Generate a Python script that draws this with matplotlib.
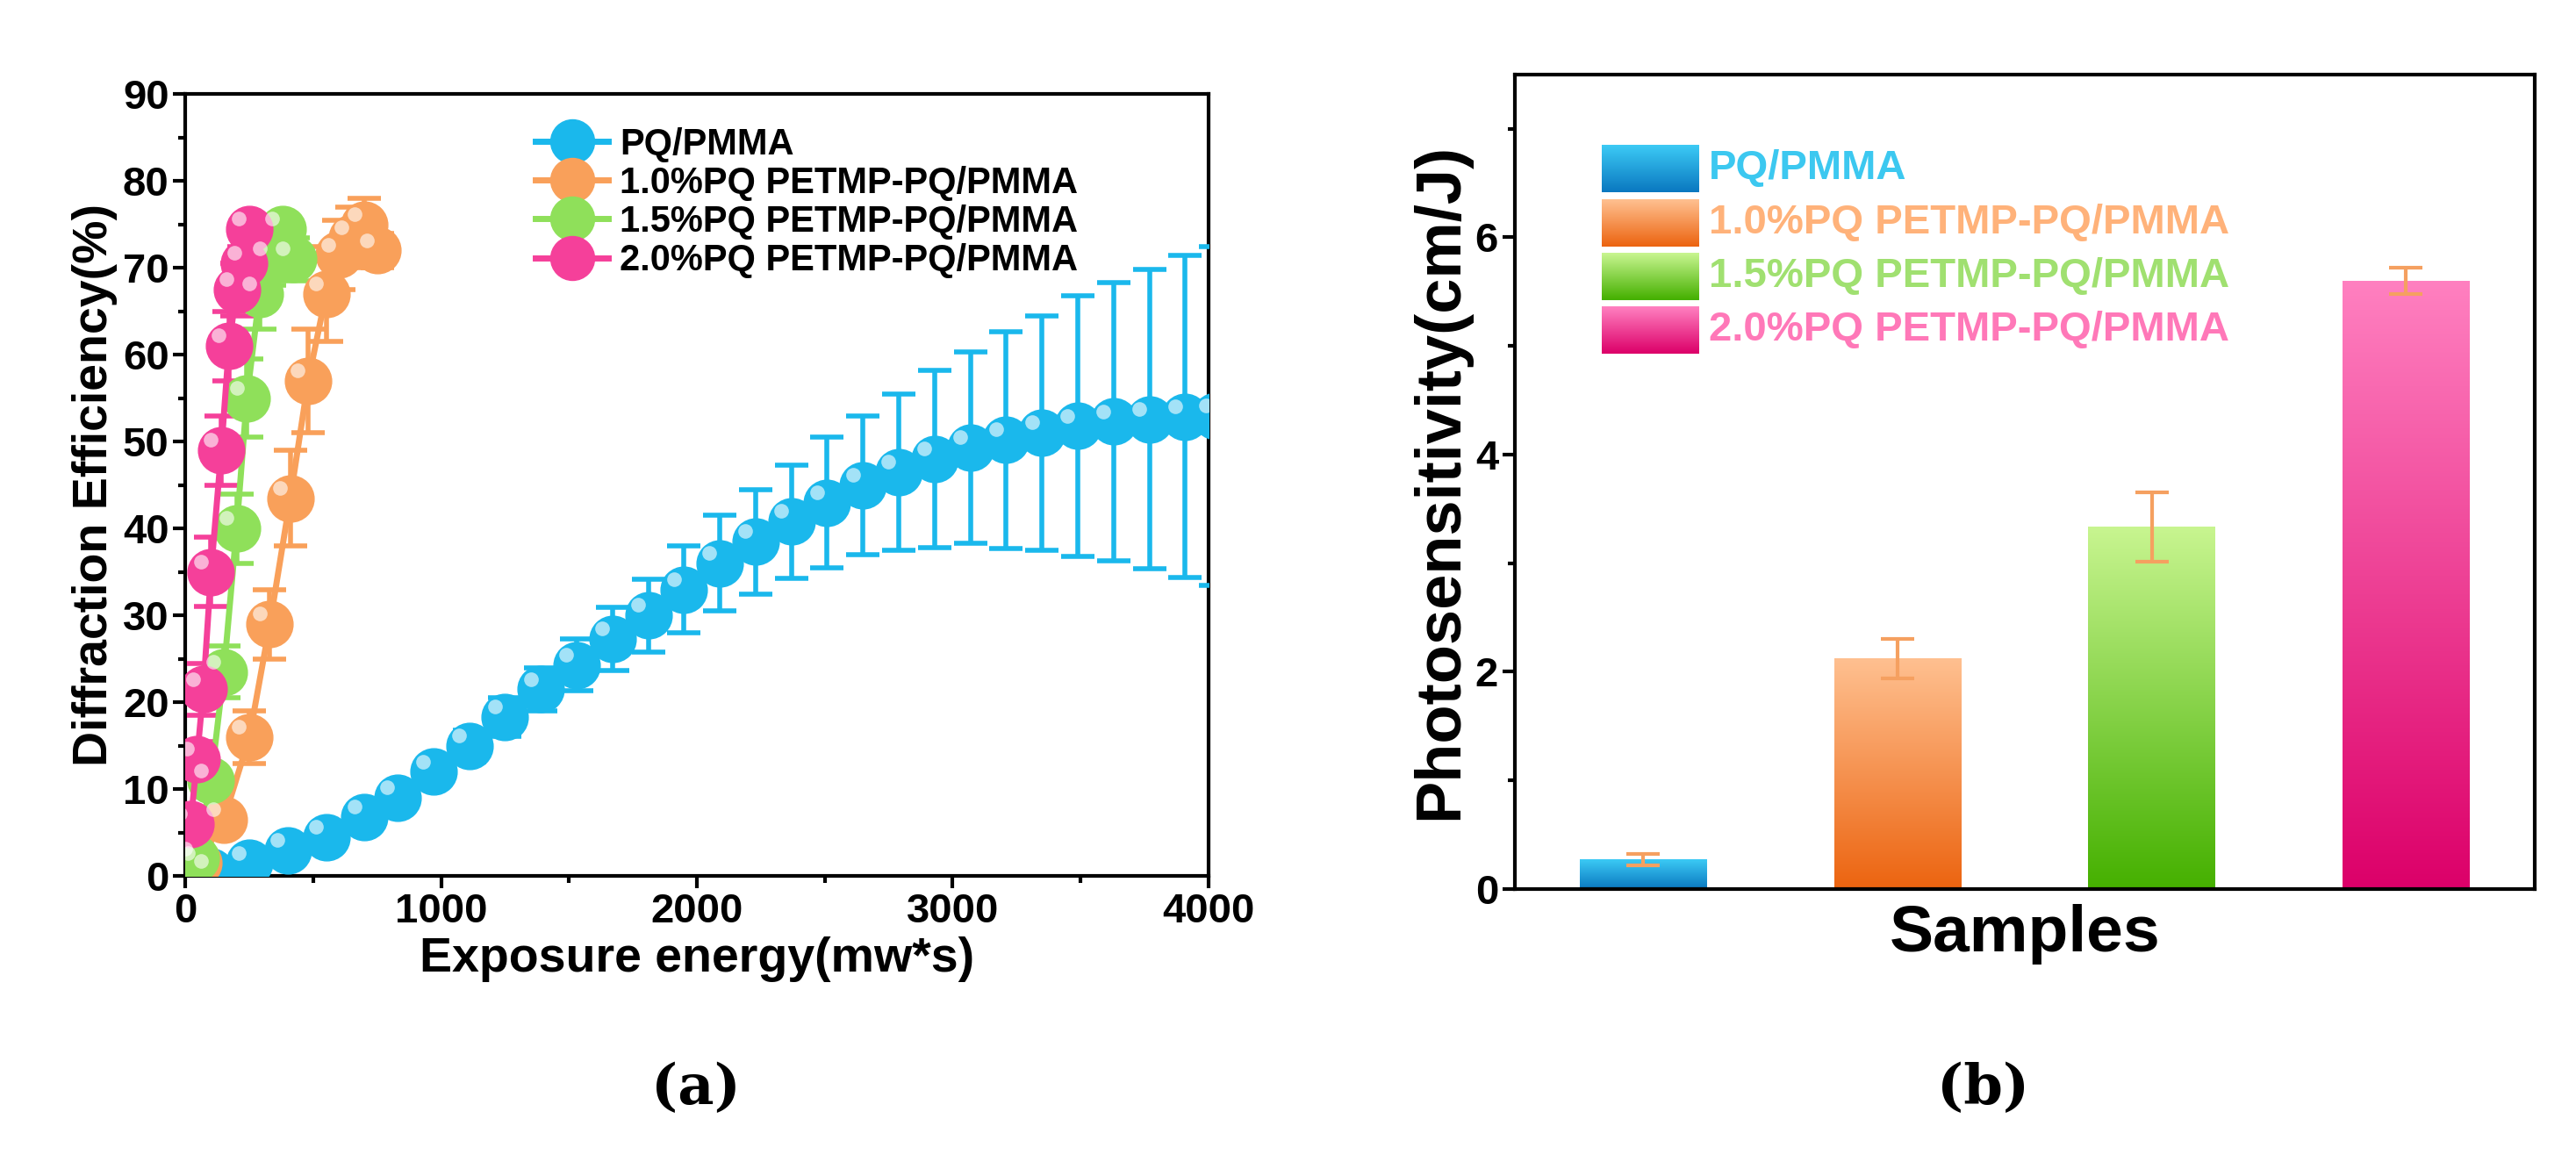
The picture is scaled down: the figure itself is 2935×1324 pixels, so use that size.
import numpy as np
import matplotlib.pyplot as plt
from matplotlib.colors import LinearSegmentedColormap
from matplotlib.lines import Line2D

plt.rcParams['font.family'] = ['Liberation Sans', 'DejaVu Sans']
plt.rcParams['font.weight'] = 'bold'

# panel (a) data
pq_x = [100, 250, 400, 550, 700, 830, 970, 1110, 1250, 1390, 1530, 1670, 1810, 1950, 2090, 2230,
        2370, 2510, 2650, 2790, 2930, 3070, 3210, 3350, 3490, 3630, 3770, 3910, 4030]
pq_y = [0.5, 1.5, 3, 4.5, 6.8, 9, 12, 15, 18.3, 21.5, 24.3, 27.3, 30, 33, 36, 38.5,
        40.8, 43, 45, 46.5, 48, 49.3, 50.2, 51, 51.8, 52.3, 52.6, 52.9, 53]
pq_e = [0.2, 0.4, 0.6, 0.8, 1, 1.2, 1.5, 1.8, 2.2, 2.5, 3, 3.6, 4.2, 5, 5.5, 6,
        6.5, 7.5, 8, 9, 10.2, 11, 12.5, 13.5, 15, 16, 17.2, 18.5, 19.5]
p10_x = [50, 150, 250, 330, 410, 480, 550, 600, 650, 700, 750]
p10_y = [1.5, 6.5, 16, 29, 43.5, 57, 67, 71.5, 73.5, 75, 72]
p10_e = [0.5, 1.5, 3, 4, 5.5, 6, 5.5, 4, 3.5, 3, 2]
p15_x = [40, 100, 150, 200, 240, 290, 330, 380, 420]
p15_y = [2, 11, 23.5, 40, 55, 67, 71, 74.5, 71]
p15_e = [0.5, 1.5, 3, 4, 4.5, 4, 3, 1.5, 2.5]
p20_x = [20, 45, 70, 100, 140, 170, 200, 230, 250]
p20_y = [6, 13.5, 21.5, 35, 49, 61, 67.5, 70.5, 74.5]
p20_e = [1, 2, 3, 4, 4, 4, 3, 2, 1.5]

labels = ['PQ/PMMA', '1.0%PQ PETMP-PQ/PMMA', '1.5%PQ PETMP-PQ/PMMA', '2.0%PQ PETMP-PQ/PMMA']
line_colors = ['#1ab8ec', '#f9a05a', '#8fe05a', '#f5409a']

# panel (b) data
ps_val = [0.27, 2.12, 3.33, 5.6]
ps_err = [0.05, 0.18, 0.32, 0.12]
grad = [('#0a78c0', '#3ccaf5'), ('#ec6410', '#ffc090'), ('#45b000', '#c8f590'), ('#dc0069', '#ff80c0')]
text_colors = ['#3cc8f0', '#ffb27a', '#a0e070', '#ff78b8']

fig = plt.figure(figsize=(29.35, 13.24), dpi=100)

ax = fig.add_axes([0.072, 0.246, 0.397, 0.673])
series = [(pq_x, pq_y, pq_e), (p10_x, p10_y, p10_e), (p15_x, p15_y, p15_e), (p20_x, p20_y, p20_e)]
for (x, y, e), c, lab in zip(series, line_colors, labels):
    ax.errorbar(x, y, yerr=e, color=c, lw=5, elinewidth=4, capsize=14, capthick=4,
                marker='o', ms=38, mfc=c, mec=c, zorder=3, clip_on=True)
    ax.plot(np.array(x) - 40, np.array(y) + 1.2, 'o', ms=12, color='white',
            alpha=0.6, mec='none', zorder=4)
handles = [Line2D([], [], color=c, lw=5, marker='o', ms=36) for c in line_colors]
ax.legend(handles, labels, loc='upper left', bbox_to_anchor=(0.31, 1.0), frameon=False,
          handlelength=2.0, labelspacing=0.1, handletextpad=0.3,
          prop={'weight': 'bold', 'size': 30})
ax.set_xlim(0, 4000)
ax.set_ylim(0, 90)
ax.set_xticks([0, 1000, 2000, 3000, 4000])
ax.set_yticks(range(0, 91, 10))
ax.set_yticks(range(5, 90, 10), minor=True)
ax.set_xticks(range(500, 4000, 1000), minor=True)
ax.tick_params(labelsize=34, width=3, length=10)
ax.tick_params(which='minor', width=3, length=6)
for s in ax.spines.values():
    s.set_linewidth(3)
ax.set_xlabel('Exposure energy(mw*s)', fontsize=40, fontweight='bold')
ax.set_ylabel('Diffraction Efficiency(%)', fontsize=40, fontweight='bold')

bx = fig.add_axes([0.588, 0.235, 0.396, 0.701])
pos = np.arange(1, 5)
w = 0.5
for p, v, (c0, c1) in zip(pos, ps_val, grad):
    cmap = LinearSegmentedColormap.from_list('g', [c0, c1])
    bx.imshow(np.linspace(0, 1, 256).reshape(-1, 1), cmap=cmap, origin='lower',
              extent=[p - w / 2, p + w / 2, 0, v], aspect='auto', zorder=2)
bx.errorbar(pos, ps_val, yerr=ps_err, fmt='none', ecolor='#f5a060', elinewidth=3,
            capsize=14, capthick=3, zorder=3)
for i, (lab, (c0, c1), tc) in enumerate(zip(labels, grad, text_colors)):
    y0 = 0.855 - i * 0.066
    cmap = LinearSegmentedColormap.from_list('g', [c0, c1])
    bx.imshow(np.linspace(0, 1, 64).reshape(-1, 1), cmap=cmap, origin='lower',
              extent=[0.085, 0.18, y0, y0 + 0.058], transform=bx.transAxes, aspect='auto', zorder=2)
    bx.text(0.19, y0 + 0.029, lab, color=tc, fontsize=34, fontweight='bold',
            va='center', transform=bx.transAxes)
bx.set_xlim(0.494, 4.506)
bx.set_ylim(0, 7.5)
bx.set_xticks([])
bx.set_yticks([0, 2, 4, 6])
bx.set_yticks([1, 3, 5, 7], minor=True)
bx.tick_params(labelsize=34, width=3, length=10)
bx.tick_params(which='minor', width=3, length=6)
for s in bx.spines.values():
    s.set_linewidth(3)
bx.set_xlabel('Samples', fontsize=54, fontweight='bold', labelpad=12)
bx.set_ylabel('Photosensitivity(cm/J)', fontsize=52, fontweight='bold')

fig.text(0.27, 0.05, '(a)', fontsize=46, family='DejaVu Serif', ha='center')
fig.text(0.77, 0.05, '(b)', fontsize=46, family='DejaVu Serif', ha='center')

fig.savefig('out.png', dpi=100)
